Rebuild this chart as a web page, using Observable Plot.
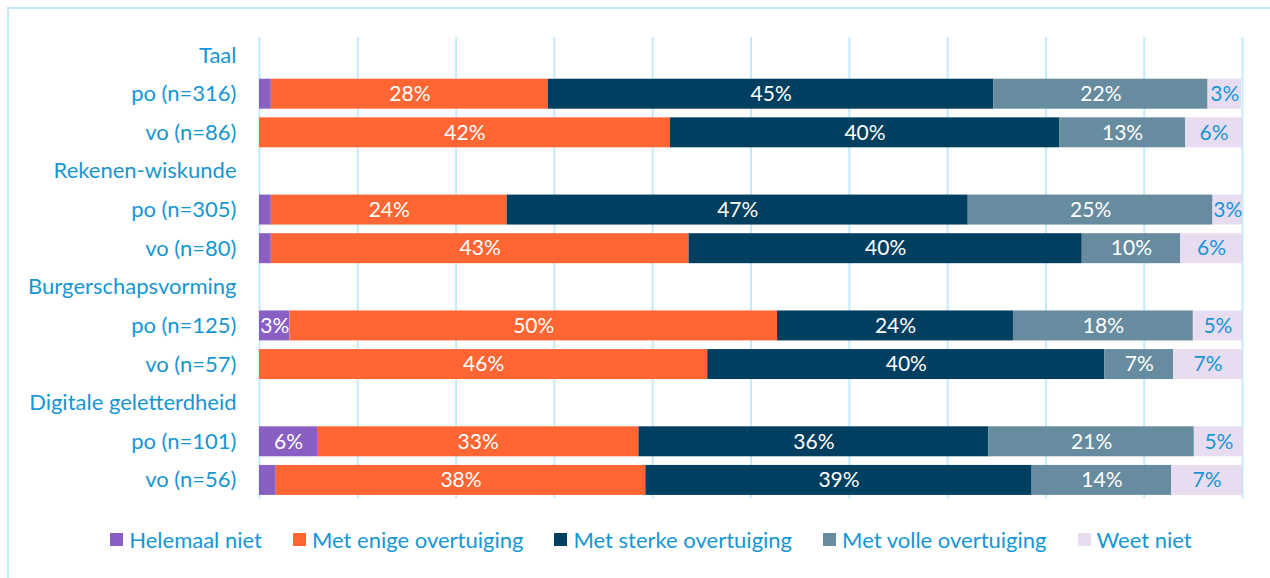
<!DOCTYPE html>
<html>
<head>
<meta charset="utf-8">
<script src="https://cdn.jsdelivr.net/npm/d3@7"></script>
<script src="https://cdn.jsdelivr.net/npm/@observablehq/plot@0.6"></script>
<style>
  html, body { margin: 0; padding: 0; background: #fff; overflow: hidden; }
  body { width: 1270px; height: 578px; position: relative; font-family: Lato, "Open Sans", sans-serif; }
  #frame { position: absolute; left: 7px; top: 7px; width: 2000px; height: 2000px; border: 2px solid #c0eafa; box-sizing: border-box; }
  #chart { position: absolute; left: 0; top: 0; }
  #legend { position: absolute; left: 0; top: 523px; width: 1302px; display: flex; justify-content: center; }
  .lg-swatches-wrap { flex-wrap: nowrap !important; }
  .lg-swatch { margin-right: 31px !important; }
  .lg-swatch:last-child { margin-right: 0 !important; }
  .lg-swatch svg { margin-right: 6px !important; }
</style>
</head>
<body>
<div id="frame"></div>
<div id="chart"></div>
<div id="legend"></div>
<script>
const rows = ["Taal", "po (n=316)", "vo (n=86)",
  "Rekenen-wiskunde", "po (n=305)", "vo (n=80)",
  "Burgerschapsvorming", "po (n=125)", "vo (n=57)",
  "Digitale geletterdheid", "po (n=101)", "vo (n=56)"];
const barRows = ["po (n=316)", "vo (n=86)", "po (n=305)", "vo (n=80)",
  "po (n=125)", "vo (n=57)", "po (n=101)", "vo (n=56)"];
const categories = ["Helemaal niet", "Met enige overtuiging", "Met sterke overtuiging",
  "Met volle overtuiging", "Weet niet"];
const colors = ["#8a5fc3", "#ff6633", "#003f5f", "#678c9f", "#e8dcf1"];
const labelColors = ["#ffffff", "#ffffff", "#ffffff", "#ffffff", "#1696d2"];

const helemaalNiet = [1.2, 0, 1.2, 1.2, 3.1, 0, 5.9, 1.7];
const metEnige     = [28.2, 41.8, 24.0, 42.5, 49.6, 45.6, 32.7, 37.6];
const metSterke    = [45.3, 39.6, 46.9, 40.0, 24.0, 40.4, 35.6, 39.3];
const metVolle     = [21.8, 12.8, 24.9, 10.0, 18.3, 7.0, 20.9, 14.2];
const weetNiet     = [3.4, 5.8, 3.0, 6.3, 5.0, 7.0, 5.0, 7.2];
const gridTicks = [0, 10, 20, 30, 40, 50, 60, 70, 80, 90, 100];

const series = [helemaalNiet, metEnige, metSterke, metVolle, weetNiet];
const data = [];
barRows.forEach((r, i) => {
  categories.forEach((c, j) => {
    data.push({row: r, cat: c, value: series[j][i], labelColor: labelColors[j]});
  });
});

const chart = Plot.plot({
  width: 1270,
  height: 510,
  marginLeft: 259,
  marginRight: 28,
  marginTop: 37,
  marginBottom: 12,
  style: {fontFamily: "Lato, 'Open Sans', sans-serif", fontSize: "22px", color: "#1696d2", background: "transparent"},
  x: {domain: [0, 100], axis: null},
  y: {domain: rows, paddingInner: 0.224, paddingOuter: 0.08, round: false, label: null},
  color: {domain: categories, range: colors},
  marks: [
    Plot.ruleX(gridTicks, {stroke: "#c3ebfb", strokeWidth: 2}),
    Plot.barX(data, Plot.stackX({x: "value", y: "row", z: "cat", fill: "cat", order: categories})),
    Plot.text(data, Plot.stackX({
      x: "value", y: "row", z: "cat", order: categories,
      text: d => d.value >= 2.5 ? Math.round(d.value) + "%" : "",
      fill: "labelColor", fontSize: 21
    })),
    Plot.axisY({tickSize: 0, tickPadding: 23, fontSize: 22, label: null, fill: "#1696d2"})
  ]
});
document.getElementById("chart").appendChild(chart);

const legend = Plot.legend({
  color: {domain: categories, range: colors},
  legend: "swatches",
  swatchSize: 13,
  className: "lg",
  style: {fontFamily: "Lato, 'Open Sans', sans-serif", fontSize: "22px", color: "#1696d2"}
});
document.getElementById("legend").appendChild(legend);
</script>
</body>
</html>
